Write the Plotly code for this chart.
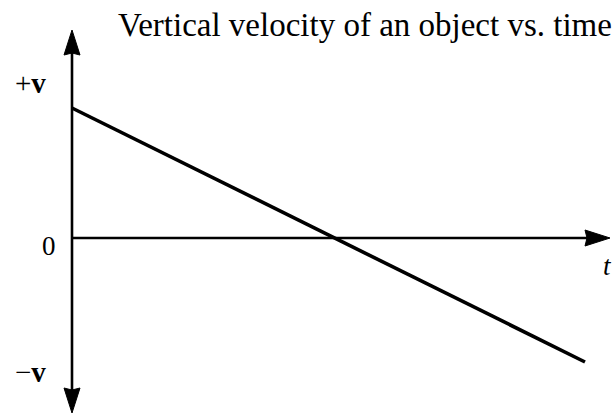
import plotly.graph_objects as go

# Data (arbitrary units)
time_vals = [0, 10.26]
velocity_vals = [1.30, -1.24]
t_axis_min = -1.44
t_axis_max = 10.76
v_axis_top = 2.08
v_axis_bottom = -1.75
tick_labels = ["+v", "0", "\u2212v"]
tick_positions = [1.55, -0.08, -1.34]
title_text = "Vertical velocity of an object vs. time"

FONT = "Liberation Serif"
W, H = 616, 417
ML, MR, MT, MB = 0, 6, 30, 4
pw, ph = W - ML - MR, H - MT - MB
px_x = pw / (t_axis_max - t_axis_min)       # pixels per time unit
px_y = ph / (v_axis_top - v_axis_bottom)    # pixels per velocity unit

fig = go.Figure()
fig.add_trace(go.Scatter(x=time_vals, y=velocity_vals, mode="lines",
                         line=dict(color="black", width=3.6), showlegend=False,
                         hoverinfo="skip"))

# axis lines
head_len, head_half, notch = 25, 8, 2
shapes = [
    dict(type="line", x0=0, x1=0, y0=v_axis_bottom + head_len / px_y * 0.8,
         y1=v_axis_top - head_len / px_y * 0.8, xref="x", yref="y",
         line=dict(color="black", width=2.6)),
    dict(type="line", x0=0, x1=t_axis_max - head_len / px_x * 0.8, y0=0, y1=0,
         xref="x", yref="y", line=dict(color="black", width=2.4)),
]

def head(tip_x, tip_y, dx, dy):
    bx = tip_x - dx * head_len / px_x
    by = tip_y - dy * head_len / px_y
    nx = tip_x - dx * (head_len - notch) / px_x
    ny = tip_y - dy * (head_len - notch) / px_y
    px_, py_ = -dy, dx
    p1 = (bx + px_ * head_half / px_x, by + py_ * head_half / px_y)
    p2 = (bx - px_ * head_half / px_x, by - py_ * head_half / px_y)
    path = (f"M {tip_x},{tip_y} L {p1[0]},{p1[1]} L {nx},{ny} "
            f"L {p2[0]},{p2[1]} Z")
    return dict(type="path", path=path, xref="x", yref="y",
                fillcolor="black", line=dict(color="black", width=1))

shapes.append(head(0, v_axis_top, 0, 1))
shapes.append(head(0, v_axis_bottom, 0, -1))
shapes.append(head(t_axis_max, 0, 1, 0))

annotations = []
shifts = [-24, -14, -24]
for lab, pos, sh in zip(tick_labels, tick_positions, shifts):
    txt = lab if lab == "0" else lab.replace("v", "<b>v</b>")
    annotations.append(dict(x=0, y=pos, xref="x", yref="y", text=txt,
                            showarrow=False, xanchor="right", xshift=sh,
                            font=dict(family=FONT, size=29 if lab != "0" else 27,
                                      color="black")))
# t label
annotations.append(dict(x=t_axis_max, y=0, xref="x", yref="y", text="<i>t</i>",
                        showarrow=False, xanchor="center", yshift=-28, xshift=-3,
                        font=dict(family=FONT, size=27, color="black")))
# title
annotations.append(dict(x=(365 - ML) / pw, y=(H - MB - 25) / ph, xref="paper", yref="paper",
                        text=title_text, showarrow=False, xanchor="center", yanchor="middle",
                        font=dict(family=FONT, size=33, color="black")))

fig.update_layout(
    width=W, height=H,
    margin=dict(l=ML, r=MR, t=MT, b=MB, autoexpand=False),
    plot_bgcolor="white", paper_bgcolor="white",
    xaxis=dict(range=[t_axis_min, t_axis_max], visible=False),
    yaxis=dict(range=[v_axis_bottom, v_axis_top], visible=False),
    shapes=shapes,
    annotations=annotations,
)
fig.write_html("out.html", config={"displayModeBar": False},
               post_script="document.body.style.margin='0';")
